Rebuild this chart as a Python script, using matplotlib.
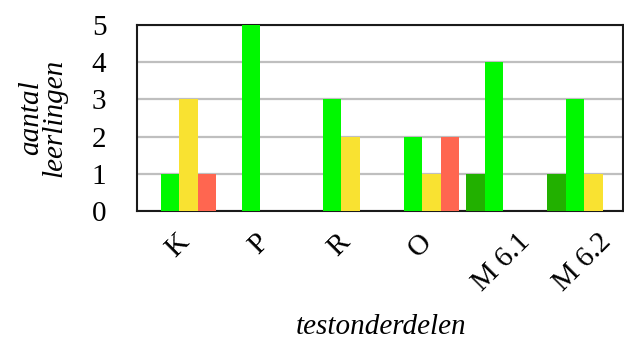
import numpy as np
import matplotlib
matplotlib.use("Agg")
import matplotlib.pyplot as plt

# Number of pupils per test part, per score band
categories = ["K", "P", "R", "O", "M 6.1", "M 6.2"]
dark_green = [0, 0, 0, 0, 1, 1]
green = [1, 5, 3, 2, 4, 3]
yellow = [3, 0, 2, 1, 0, 1]
red = [1, 0, 0, 2, 0, 0]

series = [dark_green, green, yellow, red]
colors = ["#22B000", "#00F800", "#F9E231", "#FF6650"]

plt.rcParams["font.family"] = ["Liberation Serif", "DejaVu Serif"]

fig = plt.figure(figsize=(6.24, 3.41), dpi=100)
ax = fig.add_axes([137 / 624, 1 - 211 / 341, 486 / 624, 186 / 341])

x = np.arange(len(categories))
width = 0.228
for i, (vals, col) in enumerate(zip(series, colors)):
    ax.bar(x + (i - 1.5) * width + 0.02, vals, width=width, color=col, linewidth=0, zorder=3)

ax.set_xlim(-0.5, len(categories) - 0.5)
ax.set_ylim(0, 5)
ax.set_yticks(range(6))
ax.grid(axis="y", color="#BFBFBF", linewidth=1.6, zorder=1)
ax.set_axisbelow(True)

ax.set_xticks(x)
ax.set_xticklabels(categories, rotation=45, ha="center", va="top", fontsize=21)
ax.tick_params(axis="x", length=0, pad=13)
ax.tick_params(axis="y", length=0, pad=22, labelsize=21)

for sp in ax.spines.values():
    sp.set_linewidth(1.5)
    sp.set_color("#1a1a1a")

fig.text(43 / 624, 1 - 118 / 341, "aantal\nleerlingen", rotation=90, ha="center", va="center",
         style="italic", fontsize=21, multialignment="center", linespacing=0.85)
fig.text(381 / 624, 1 - 327 / 341, "testonderdelen", ha="center", va="center",
         style="italic", fontsize=21)

fig.savefig("out.png", dpi=100)
